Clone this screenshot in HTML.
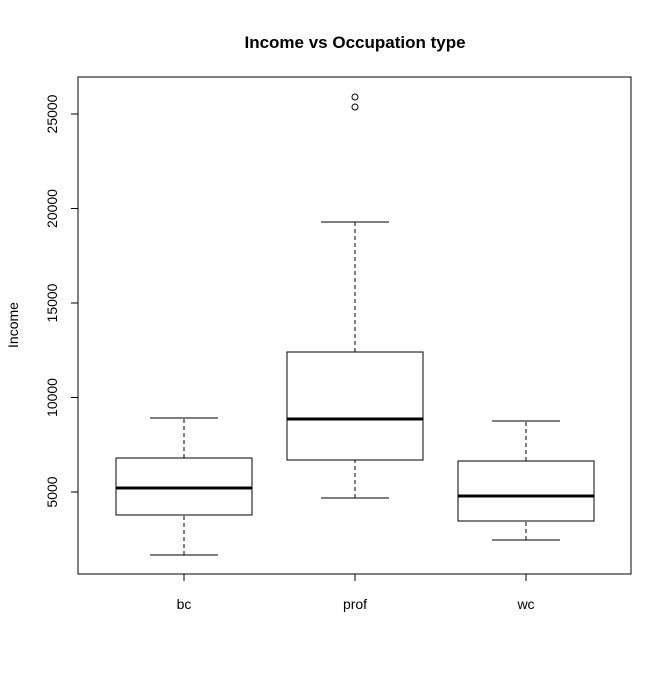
<!DOCTYPE html>
<html><head><meta charset="utf-8"><style>
body{margin:0;background:#fff}
text{font-family:"Liberation Sans",Arial,sans-serif;fill:#000}
</style></head><body>
<svg id="chart" width="672" height="672" xmlns="http://www.w3.org/2000/svg">
<rect width="672" height="672" fill="#fff"/>
<text x="355" y="48" font-size="17" font-weight="bold" text-anchor="middle">Income vs Occupation type</text>
<text transform="translate(18,325) rotate(-90)" font-size="14" text-anchor="middle">Income</text>
<rect x="78" y="77" width="553" height="497" fill="none" stroke="#000"/>
<g id="axes"></g><g id="boxes"></g>
</svg>
<script>
const categories=["bc","prof","wc"];
const lowerWhisker=[1667,4683,2460];
const q1=[3783,6693,3466];
const medians=[5212,8862,4788];
const q3=[6799,12407,6640];
const upperWhisker=[8915,19286,8757];
const outliers=[[],[25370,25899],[]];
const yTicks=[5000,10000,15000,20000,25000];
const NS="http://www.w3.org/2000/svg";
function y(v){return 492-(v-5000)*0.0189;}
function x(i){return 184+i*171;}
function mk(tag,attrs,parent){const e=document.createElementNS(NS,tag);for(const k in attrs)e.setAttribute(k,attrs[k]);parent.appendChild(e);return e;}
const ax=document.getElementById('axes'),bx=document.getElementById('boxes');
mk('line',{x1:78,x2:78,y1:y(yTicks[0]),y2:y(yTicks[yTicks.length-1]),stroke:'#000'},ax);
yTicks.forEach(t=>{
  const l=mk('line',{x1:71,x2:78,y1:y(t),y2:y(t),stroke:'#000'},ax);
  
  
  const tx=mk('text',{transform:`translate(57,${y(t)}) rotate(-90)`,'font-size':14,'text-anchor':'middle'},ax);
  tx.textContent=t;
  
  
});
mk('line',{x1:x(0),x2:x(categories.length-1),y1:574,y2:574,stroke:'#000'},ax);
categories.forEach((c,i)=>{
  const cx=x(i),hw=68;
  const t=mk('line',{x1:cx,x2:cx,y1:574,y2:581,stroke:'#000'},ax);
  
  
  const tx=mk('text',{x:cx,y:609,'font-size':14,'text-anchor':'middle'},ax);
  tx.textContent=c;
  
  
  const g=mk('g',{},bx);
  
  
  mk('line',{x1:cx,x2:cx,y1:y(lowerWhisker[i]),y2:y(q1[i]),stroke:'#000','stroke-dasharray':'4,3'},g);
  mk('line',{x1:cx,x2:cx,y1:y(q3[i]),y2:y(upperWhisker[i]),stroke:'#000','stroke-dasharray':'4,3'},g);
  mk('line',{x1:cx-34,x2:cx+34,y1:y(lowerWhisker[i]),y2:y(lowerWhisker[i]),stroke:'#000'},g);
  mk('line',{x1:cx-34,x2:cx+34,y1:y(upperWhisker[i]),y2:y(upperWhisker[i]),stroke:'#000'},g);
  mk('rect',{x:cx-hw,y:y(q3[i]),width:2*hw,height:y(q1[i])-y(q3[i]),fill:'none',stroke:'#000'},g);
  mk('line',{x1:cx-hw,x2:cx+hw,y1:y(medians[i]),y2:y(medians[i]),stroke:'#000','stroke-width':3},g);
  outliers[i].forEach(o=>{
    const p=mk('circle',{cx:cx,cy:y(o),r:3,fill:'none',stroke:'#000'},g);
    
    
  });
});
</script>
</body></html>
